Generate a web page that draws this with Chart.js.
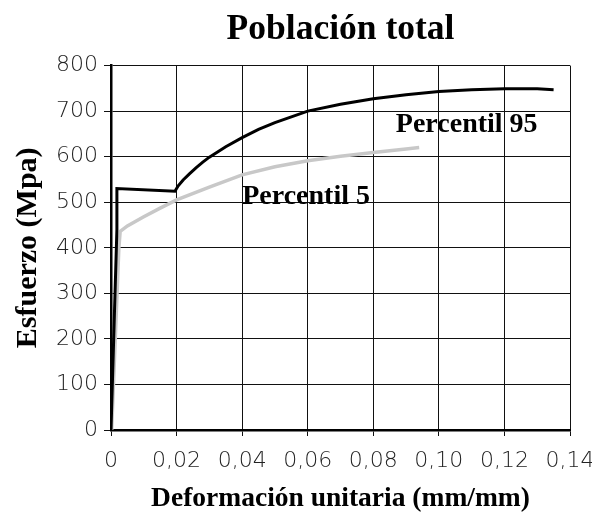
<!DOCTYPE html>
<html>
<head>
<meta charset="utf-8">
<script src="https://cdn.jsdelivr.net/npm/chart.js@4"></script>
<style>
  body { margin: 0; background: #fff; }
  #wrap { width: 592px; height: 516px; }
</style>
</head>
<body>
<div id="wrap"><canvas id="chart"></canvas></div>
<script>
// Percentil 95 (black)
const p95_x = [0, 0.0018, 0.0018, 0.0195, 0.0205, 0.022, 0.024, 0.026, 0.028, 0.03, 0.035, 0.04, 0.045, 0.05, 0.06, 0.07, 0.08, 0.09, 0.10, 0.11, 0.12, 0.13, 0.135]
const p95_y = [0, 440, 530, 524, 536, 549, 563, 576, 588, 599, 622, 642, 660, 675, 700, 715, 727, 736, 743, 747, 749, 749, 747]
// Percentil 5 (grey)
const p5_x = [0.0002, 0.0024, 0.0028, 0.005, 0.01, 0.015, 0.02, 0.03, 0.04, 0.05, 0.06, 0.07, 0.08, 0.09, 0.094]
const p5_y = [0, 400, 436, 448, 468, 487, 505, 533, 560, 578, 591, 601, 609, 617, 620]

const tick_x = [0, 0.02, 0.04, 0.06, 0.08, 0.10, 0.12, 0.14]
const tick_y = [0, 100, 200, 300, 400, 500, 600, 700, 800]

const series_names = ['Percentil 95', 'Percentil 5']
// where the series names are written, in data units
const name_x = [0.1085, 0.0595]
const name_y = [670, 512]

const serif = 'Liberation Serif'
const grid = '#111'

function points(xs, ys) {
    return xs.map((x, i) => ({ x: x, y: ys[i] }))
}

const seriesNames = {
    id: 'seriesNames',
    afterDatasetsDraw(chart) {
        const ctx = chart.ctx
        const sx = chart.scales.x
        const sy = chart.scales.y
        ctx.save()
        ctx.font = 'bold 28px "' + serif + '"'
        ctx.fillStyle = '#000'
        ctx.textAlign = 'center'
        ctx.textBaseline = 'middle'
        series_names.forEach((name, i) => {
            ctx.fillText(name, sx.getPixelForValue(name_x[i]), sy.getPixelForValue(name_y[i]))
        })
        ctx.restore()
    }
}

new Chart(document.getElementById('chart'), {
    type: 'line',
    data: {
        datasets: [{
                label: series_names[0],
                data: points(p95_x, p95_y),
                borderColor: '#000',
                borderWidth: 3,
                pointRadius: 0,
                tension: 0,
            },
            {
                label: series_names[1],
                data: points(p5_x, p5_y),
                borderColor: '#c8c8c8',
                borderWidth: 3.5,
                pointRadius: 0,
                tension: 0,
            },
        ]
    },
    options: {
        responsive: true,
        maintainAspectRatio: false,
        animation: false,
        layout: { padding: { left: 0, right: 22, top: 0, bottom: 0 } },
        plugins: {
            legend: { display: false },
            tooltip: { enabled: false },
            title: {
                display: true,
                text: 'Población total',
                fullSize: false,
                color: '#000',
                font: { family: serif, size: 35.5, weight: 'bold' },
                padding: { top: 9, bottom: 14 }
            }
        },
        scales: {
            x: {
                type: 'linear',
                min: 0,
                max: 0.14,
                afterBuildTicks: (scale) => { scale.ticks = tick_x.map(v => ({ value: v })) },
                afterFit: (scale) => {
                    scale.height = 86
                    scale.paddingLeft = 0
                    scale.paddingRight = 0
                },
                grid: { color: grid, lineWidth: 1, tickLength: 6 },
                border: { color: '#000', width: 2.5 },
                ticks: {
                    color: '#222',
                    padding: 12,
                    font: { family: 'DejaVu Sans', size: 22, weight: '200' },
                    callback: (v) => v == 0 ? '0' : v.toFixed(2).replace('.', ',')
                },
                title: {
                    display: true,
                    text: 'Deformación unitaria (mm/mm)',
                    color: '#000',
                    font: { family: serif, size: 27.5, weight: 'bold' },
                    padding: { top: 0, bottom: 1 }
                }
            },
            y: {
                min: 0,
                max: 800,
                afterBuildTicks: (scale) => { scale.ticks = tick_y.map(v => ({ value: v })) },
                afterFit: (scale) => { scale.width = 111 },
                grid: { color: grid, lineWidth: 1, tickLength: 7 },
                border: { color: '#000', width: 2.5 },
                ticks: {
                    color: '#222',
                    padding: 6,
                    font: { family: 'DejaVu Sans', size: 22, weight: '200' }
                },
                title: {
                    display: true,
                    text: 'Esfuerzo (Mpa)',
                    color: '#000',
                    font: { family: serif, size: 30, weight: 'bold' },
                    padding: { top: 10, bottom: 0 }
                }
            }
        }
    },
    plugins: [seriesNames]
})
</script>
</body>
</html>
